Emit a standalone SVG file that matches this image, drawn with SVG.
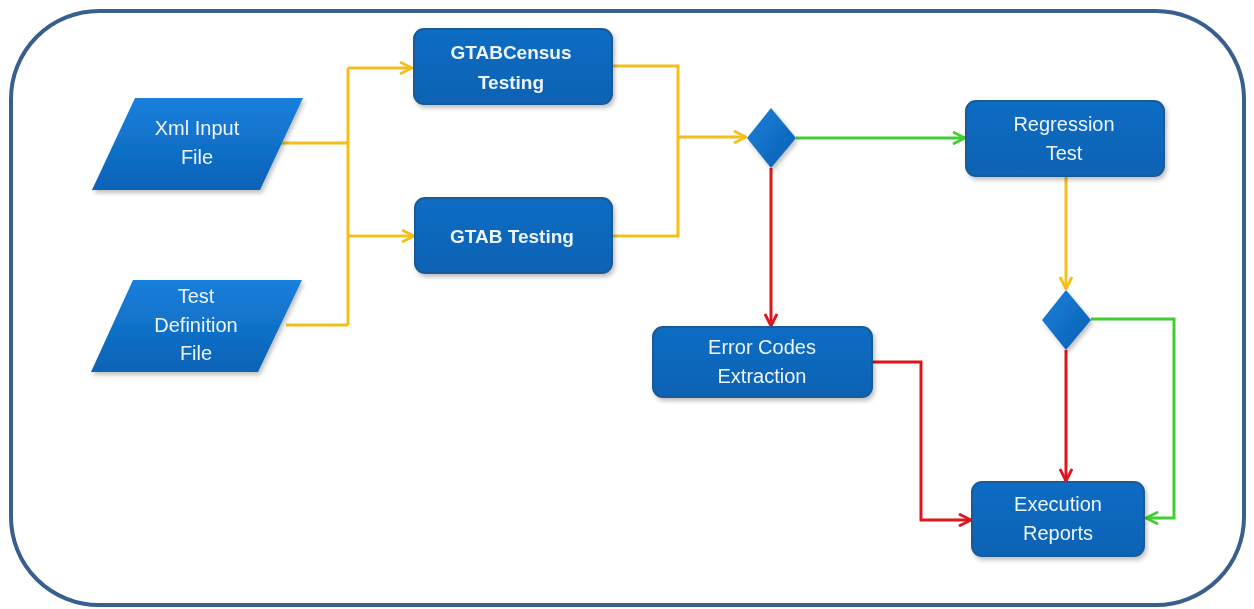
<svg xmlns="http://www.w3.org/2000/svg" width="1254" height="609" viewBox="0 0 1254 609">
<style>
.box{fill:url(#gBox);stroke:#1d5a96;stroke-width:2}
.para{fill:url(#gPara)}
.dia{fill:url(#gDia)}
.t{font-family:"Liberation Sans",Arial,sans-serif;font-size:20px;fill:#eef4fb;text-anchor:middle}
.b{font-weight:bold;font-size:19px}
.y{stroke:#f4bf1b;stroke-width:3;fill:none}
.g{stroke:#3fcf30;stroke-width:3;fill:none}
.r{stroke:#dd151c;stroke-width:3;fill:none}
</style>
<defs>
<linearGradient id="gBox" x1="0" y1="0" x2="0" y2="1"><stop offset="0" stop-color="#0b6dc4"/><stop offset="1" stop-color="#0862b3"/></linearGradient>
<linearGradient id="gPara" x1="0" y1="0" x2="0" y2="1"><stop offset="0" stop-color="#1a7fdc"/><stop offset="1" stop-color="#0863b6"/></linearGradient>
<linearGradient id="gDia" x1="0" y1="0" x2="1" y2="1"><stop offset="0" stop-color="#1b80dc"/><stop offset="1" stop-color="#0860b0"/></linearGradient>
<filter id="sh" x="-20%" y="-20%" width="150%" height="150%"><feDropShadow dx="2" dy="3" stdDeviation="2" flood-color="#000" flood-opacity="0.25"/></filter>
<marker id="ay" viewBox="0 0 14 14" refX="13" refY="7" markerWidth="14" markerHeight="14" markerUnits="userSpaceOnUse" orient="auto"><path d="M1,1 L13,7 L1,13" fill="none" stroke="#f4bf1b" stroke-width="2.8"/></marker>
<marker id="ag" viewBox="0 0 14 14" refX="13" refY="7" markerWidth="14" markerHeight="14" markerUnits="userSpaceOnUse" orient="auto"><path d="M1,1 L13,7 L1,13" fill="none" stroke="#3fcf30" stroke-width="2.8"/></marker>
<marker id="ar" viewBox="0 0 14 14" refX="13" refY="7" markerWidth="14" markerHeight="14" markerUnits="userSpaceOnUse" orient="auto"><path d="M1,1 L13,7 L1,13" fill="none" stroke="#dd151c" stroke-width="2.8"/></marker>
</defs>
<rect x="11" y="11" width="1233" height="594" rx="88" ry="88" fill="#fff" stroke="#3a5f8f" stroke-width="4"/>
<g id="connectors">
<path class="y" d="M280,143 H348"/>
<path class="y" d="M286,325 H348"/>
<path class="y" d="M348,68 V325"/>
<path class="y" d="M348,68 H412" marker-end="url(#ay)"/>
<path class="y" d="M348,236 H414" marker-end="url(#ay)"/>
<path class="y" d="M612,66 H678 V236 H612"/>
<path class="y" d="M678,137 H746" marker-end="url(#ay)"/>
<path class="g" d="M796,138 H965" marker-end="url(#ag)"/>
<path class="y" d="M1066,177 V289" marker-end="url(#ay)"/>
<path class="r" d="M771,168 V326" marker-end="url(#ar)"/>
<path class="r" d="M872,362 H921 V520 H971" marker-end="url(#ar)"/>
<path class="r" d="M1066,350 V481" marker-end="url(#ar)"/>
<path class="g" d="M1091,319 H1174 V518 H1146" marker-end="url(#ag)"/>
</g>
<g id="xml-input" filter="url(#sh)">
<polygon class="para" points="135,98 303,98 260,190 92,190"/>
<text class="t" x="197" y="135">Xml Input</text>
<text class="t" x="197" y="164">File</text>
</g>
<g id="test-def" filter="url(#sh)">
<polygon class="para" points="133,280 302,280 258,372 91,372"/>
<text class="t" x="196" y="303">Test</text>
<text class="t" x="196" y="332">Definition</text>
<text class="t" x="196" y="360">File</text>
</g>
<g id="gtabcensus" filter="url(#sh)">
<rect class="box" x="414" y="29" width="198" height="75" rx="10"/>
<text class="t b" x="511" y="59">GTABCensus</text>
<text class="t b" x="511" y="89">Testing</text>
</g>
<g id="gtab" filter="url(#sh)">
<rect class="box" x="415" y="198" width="197" height="75" rx="10"/>
<text class="t b" x="512" y="243">GTAB Testing</text>
</g>
<g id="decision1" filter="url(#sh)">
<polygon class="dia" points="771,108 796,138 771,168 747,138"/>
</g>
<g id="regression" filter="url(#sh)">
<rect class="box" x="966" y="101" width="198" height="75" rx="10"/>
<text class="t" x="1064" y="131">Regression</text>
<text class="t" x="1064" y="160">Test</text>
</g>
<g id="decision2" filter="url(#sh)">
<polygon class="dia" points="1066,290 1091,320 1066,350 1042,320"/>
</g>
<g id="error-codes" filter="url(#sh)">
<rect class="box" x="653" y="327" width="219" height="70" rx="10"/>
<text class="t" x="762" y="354">Error Codes</text>
<text class="t" x="762" y="383">Extraction</text>
</g>
<g id="execution" filter="url(#sh)">
<rect class="box" x="972" y="482" width="172" height="74" rx="10"/>
<text class="t" x="1058" y="511">Execution</text>
<text class="t" x="1058" y="540">Reports</text>
</g>
</svg>
